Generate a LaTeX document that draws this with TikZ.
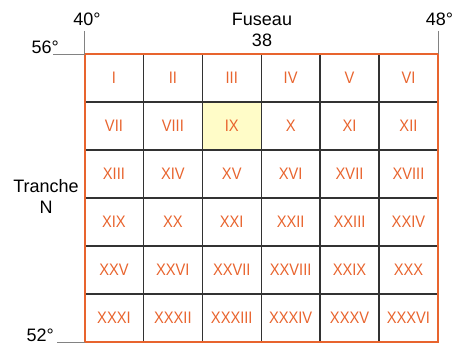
\documentclass[tikz,border=0pt]{standalone}
\usepackage{fontspec}
\setmainfont{Liberation Sans}
\newfontfamily\numfont[FakeStretch=0.88]{Liberation Sans}
\usetikzlibrary{positioning}

\definecolor{gridorange}{RGB}{232,100,46}
\definecolor{gridgray}{RGB}{50,50,50}
\definecolor{guidegray}{RGB}{130,130,130}
\definecolor{cellyellow}{RGB}{255,252,200}

\begin{document}
\begin{tikzpicture}[x=0.75pt, y=-0.75pt,
    labeltext/.style={font=\fontsize{13.5}{15.75}\selectfont, inner sep=0pt, align=center},
    romannum/.style={font=\numfont\fontsize{12.5}{14}\selectfont, text=gridorange, inner sep=0pt},
    innerline/.style={draw=gridgray, line width=1pt},
    outerline/.style={draw=gridorange, line width=1.5pt},
    guide/.style={draw=guidegray, line width=0.6pt}
]
    \useasboundingbox (0,0) rectangle (460,345);

    % Grid corners
    \coordinate (nw) at (84.5,54);
    \coordinate (ne) at (437.9,54);
    \coordinate (sw) at (84.5,342);

    % Highlighted sheet IX
    \fill[cellyellow] (202.3,102) rectangle (261.2,150);

    % Inner grid lines
    \foreach \i in {1,...,5} {
        \draw[innerline] ({84.5+\i*58.9},54) -- ({84.5+\i*58.9},342);
        \draw[innerline] (84.5,{54+\i*48}) -- (437.9,{54+\i*48});
    }
    \draw[outerline] (nw) rectangle (437.9,342);

    % Sheet numbers
    \foreach \txt [count=\n from 0] in {I,II,III,IV,V,VI,VII,VIII,IX,X,XI,XII,
        XIII,XIV,XV,XVI,XVII,XVIII,XIX,XX,XXI,XXII,XXIII,XXIV,
        XXV,XXVI,XXVII,XXVIII,XXIX,XXX,XXXI,XXXII,XXXIII,XXXIV,XXXV,XXXVI} {
        \pgfmathtruncatemacro\col{mod(\n,6)}
        \pgfmathtruncatemacro\row{div(\n,6)}
        \node[romannum] (cell\n) at ({84.5+(\col+0.5)*58.9},{54+(\row+0.5)*48}) {\txt};
    }

    % Longitudes and latitudes
    \node[labeltext, anchor=base] (lon40) at (87,26) {40°};
    \node[labeltext, anchor=base] (lon48) at (439.5,26) {48°};
    \node[labeltext, anchor=base east] (lat56) at (59,54) {56°};
    \node[labeltext, anchor=base east] (lat52) at (54,341) {52°};
    \draw[guide] (nw |- lon40.base) ++(0,5) -- (nw);
    \draw[guide] (ne |- lon48.base) ++(0,5) -- (ne);
    \draw[guide] (lat56.base east |- nw) ++(-6,0) -- (nw);
    \draw[guide] (lat52.base east |- sw) ++(3,0) -- (sw);

    % Zone and band
    \node[labeltext] (fuseau) at (262,30) {Fuseau\\38};
    \node[labeltext] (tranche) at (46,196) {Tranche\\N};
\end{tikzpicture}
\end{document}
